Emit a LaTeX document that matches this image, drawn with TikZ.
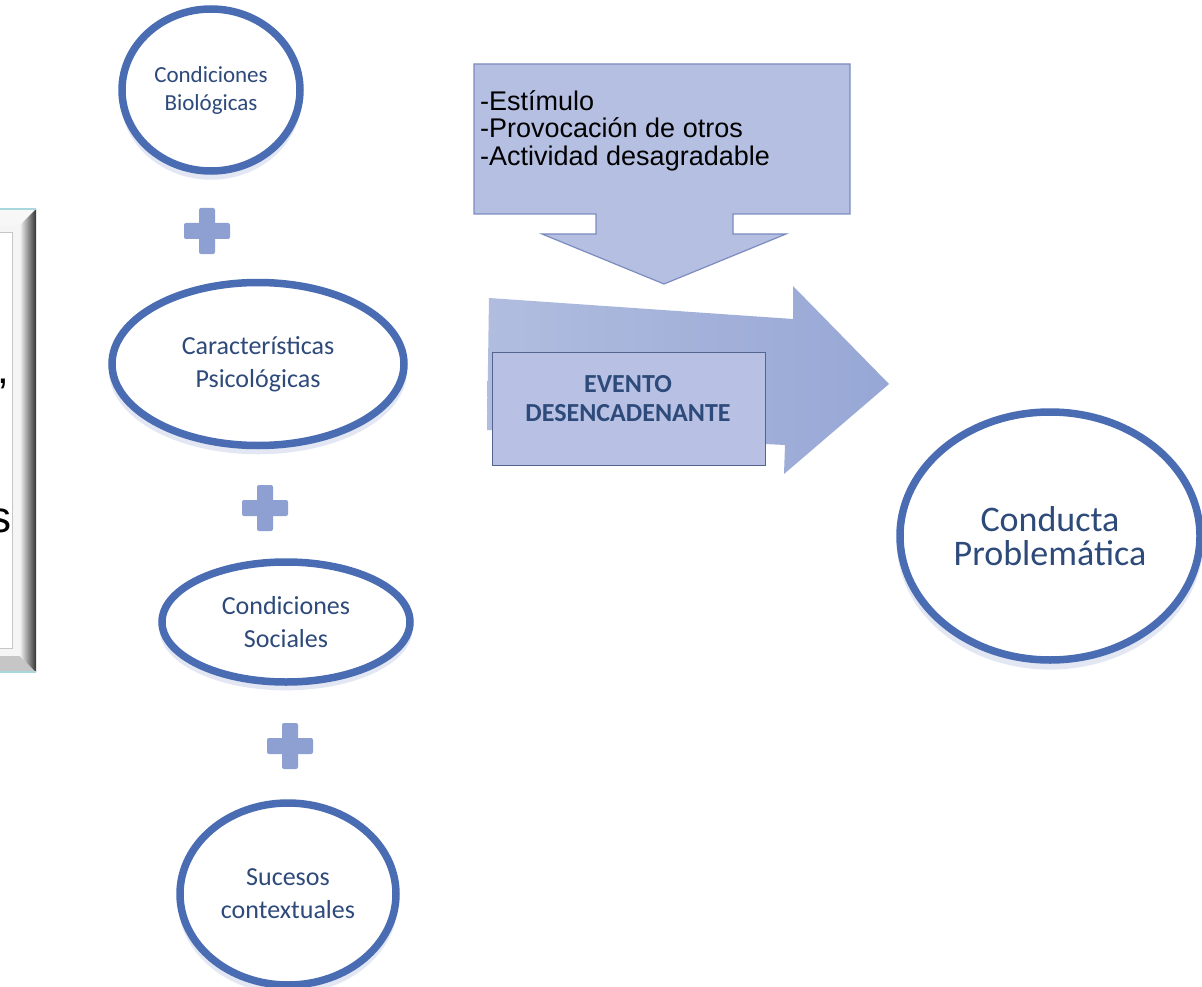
\documentclass[tikz,border=0pt]{standalone}
\usepackage{fontspec}
\setmainfont{Carlito}
\newfontfamily\arialfont{Liberation Sans}
\usetikzlibrary{positioning,shapes.geometric,shadows}
\definecolor{ovalblue}{HTML}{4A6CB3}
\definecolor{ovaltext}{HTML}{2D4A7A}
\definecolor{plusblue}{HTML}{8E9FD1}
\definecolor{arrowblue}{HTML}{97A7D5}
\definecolor{callfill}{HTML}{B5BFE2}
\definecolor{calldraw}{HTML}{7D8CC0}
\definecolor{evfill}{HTML}{B8C1E3}
\definecolor{evdraw}{HTML}{55648F}
\definecolor{framecyan}{HTML}{A8D8DC}

\begin{document}
\begin{tikzpicture}[x=1pt, y=-1pt,
  oval/.style={ellipse, draw=ovalblue, line width=7.5pt, fill=white, align=center, inner sep=0pt,
    text=ovaltext, font=\fontsize{26}{33}\selectfont,
    drop shadow={shadow xshift=0pt, shadow yshift=-7pt, shadow scale=1.02, fill=ovalblue!45, opacity=0.35}},
  plusbar/.style={fill=plusblue, rounded corners=2pt, inner sep=0pt, draw=none},
  evbox/.style={rectangle, fill=evfill, draw=evdraw, line width=1.4pt, inner sep=0pt},
  evlabel/.style={align=center, font=\bfseries\fontsize{26}{29}\selectfont, text=ovaltext},
  stimtext/.style={align=left, inner sep=0pt, font=\arialfont\fontsize{27}{27.5}\selectfont}
]
\useasboundingbox (0,0) rectangle (1202,987);
\fill[white] (0,0) rectangle (1202,987);
% ---------- left frame, cut off at the page edge ----------
\fill[white!94!gray] (-5,209) -- (36,209) -- (20,225) -- (-5,225) -- cycle;
\fill[gray!45] (-5,672) -- (36,672) -- (20,656) -- (-5,656) -- cycle;
\shade[left color=gray!10, right color=black!80] (20,225) -- (36,209) -- (36,672) -- (20,656) -- cycle;
\fill[gray!8] (-5,225) rectangle (20,656);
\draw[gray!45, line width=1pt, fill=white] (-5,233) rectangle (12,648);
\draw[framecyan, line width=1.5pt] (-5,209) -- (36,209);
\draw[framecyan, line width=1.5pt] (-5,672) -- (36,672);
\node[anchor=base east, inner sep=0pt, font=\arialfont\fontsize{42}{42}\selectfont] (fcomma) at (9,383) {,};
\node[anchor=base east, inner sep=0pt, font=\arialfont\fontsize{44}{44}\selectfont] (fs) at (12,532) {s};
% ---------- the four conditions ----------
\node[oval, minimum width=178pt, minimum height=162pt, font=\fontsize{23}{28}\selectfont] (bio) at (211,90) {Condiciones\\Biológicas};
\node[oval, minimum width=292pt, minimum height=163pt] (psi) at (258,364) {Características\\Psicológicas};
\node[oval, minimum width=248pt, minimum height=120pt] (soc) at (286,622) {Condiciones\\Sociales};
\node[oval, minimum width=216pt, minimum height=182pt] (suc) at (288,894) {Sucesos\\contextuales};
% plus signs between them
\foreach \n/\x/\y in {plusa/207/231, plusb/265/508, plusc/290/746}{
  \node[plusbar, minimum width=46pt, minimum height=16pt] (\n) at (\x,\y) {};
  \node[plusbar, minimum width=16pt, minimum height=46pt] at (\n) {};}
% ---------- trigger callout ----------
\filldraw[fill=callfill, draw=calldraw, line width=1.2pt]
  (474,64) -- (850,64) -- (850,214) -- (733,214) -- (733,234) -- (786,234) -- (664,284)
  -- (542,234) -- (596,234) -- (596,214) -- (474,214) -- cycle;
\node[stimtext, anchor=north west] (stim) at (480,90) {-Estímulo\\-Provocación de otros\\-Actividad desagradable};
% ---------- big arrow + event box ----------
\shade[left color=arrowblue!75!white, right color=arrowblue]
  (489,298) -- (793,319) -- (793,286) -- (889,384) -- (784,474) -- (785,445) -- (487,430) -- cycle;
\node[evbox, minimum width=273pt, minimum height=113pt, anchor=north west] (ev) at (492,352) {};
\node[evlabel] (evt) at (628,399) {EVENTO\\DESENCADENANTE};
% ---------- outcome ----------
\node[oval, minimum width=300pt, minimum height=248pt, font=\fontsize{36}{34}\selectfont] (cond) at (1050,536) {Conducta\\Problemática};
\end{tikzpicture}
\end{document}
